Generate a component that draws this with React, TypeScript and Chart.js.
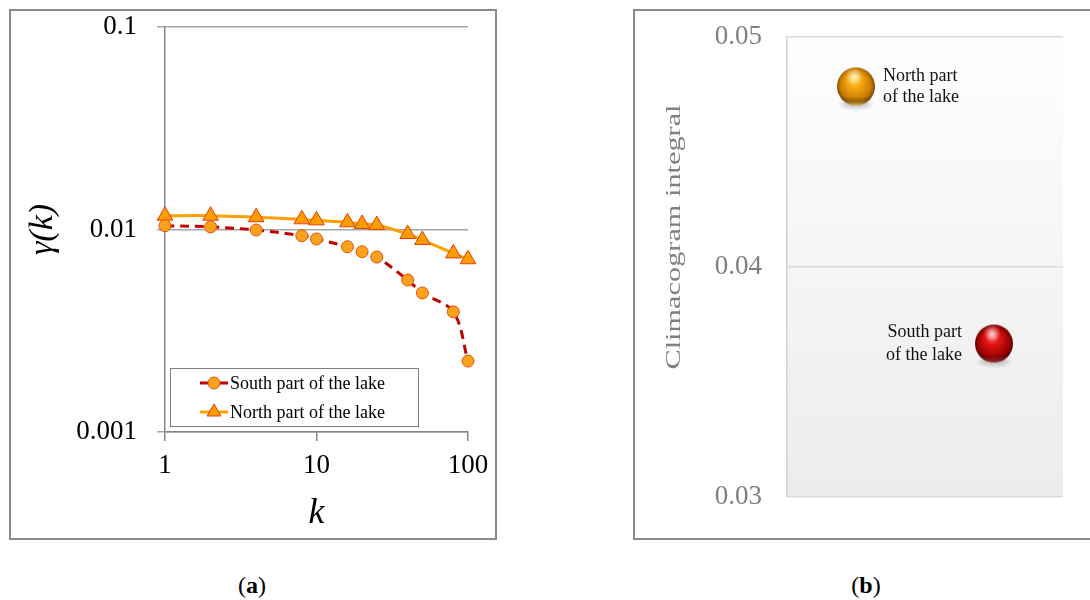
import React, { useEffect, useRef } from "react";
import { Chart, registerables } from "chart.js";

Chart.register(...registerables);

// ---------- Panel (a) data ----------
const K = [1, 2, 4, 8, 10, 16, 20, 25, 40, 50, 80, 100];
const SOUTH = [0.01044, 0.0103, 0.00994, 0.00932, 0.00898, 0.00822, 0.00777, 0.00731, 0.00563, 0.00486, 0.00392, 0.00224];
const NORTH = [0.0117, 0.0117, 0.0115, 0.01123, 0.0111, 0.01085, 0.01065, 0.01052, 0.0095, 0.00887, 0.00762, 0.00713];
const SERIES_LABELS = ["South part of the lake", "North part of the lake"];
const X_TICKS = [1, 10, 100];
const X_TICK_LABELS = ["1", "10", "100"];
const Y_TICKS = [0.001, 0.01, 0.1];
const Y_TICK_LABELS = ["0.001", "0.01", "0.1"];
const X_TITLE = "k";
const Y_TITLE = "γ(k)";

// ---------- Panel (b) data ----------
const PARTS = ["North part of the lake", "South part of the lake"];
const CLIMACOGRAM_INTEGRAL = [0.04785, 0.03667];
const PART_LABEL_LINES = [
  ["North part", "of the lake"],
  ["South part", "of the lake"],
];
const B_Y_TICKS = [0.03, 0.04, 0.05];
const B_Y_TICK_LABELS = ["0.03", "0.04", "0.05"];
const B_Y_TITLE = "Climacogram integral";

const SERIF = "'Liberation Serif', 'Times New Roman', serif";

function makeSphere(c: { light: string; mid: string; dark: string; deep: string; rim: string }) {
  const cv = document.createElement("canvas");
  cv.width = 48;
  cv.height = 52;
  const g = cv.getContext("2d")!;
  const cx = 24, cy = 26, r = 19;
  // shadow
  g.save();
  g.filter = "blur(2px)";
  g.fillStyle = "rgba(0,0,0,0.22)";
  g.beginPath();
  g.ellipse(cx, cy + r - 1, r * 0.8, 3.5, 0, 0, Math.PI * 2);
  g.fill();
  g.restore();
  // body
  const body = g.createRadialGradient(cx - r * 0.12, cy - r * 0.45, 0, cx, cy, r * 1.05);
  body.addColorStop(0, c.light);
  body.addColorStop(0.35, c.mid);
  body.addColorStop(0.78, c.dark);
  body.addColorStop(1, c.deep);
  g.fillStyle = body;
  g.beginPath();
  g.arc(cx, cy, r, 0, Math.PI * 2);
  g.fill();
  // bottom rim reflection
  g.save();
  g.beginPath();
  g.arc(cx, cy, r, 0, Math.PI * 2);
  g.clip();
  const rim = g.createLinearGradient(0, cy + r * 0.55, 0, cy + r);
  rim.addColorStop(0, "rgba(0,0,0,0)");
  rim.addColorStop(1, c.rim);
  g.fillStyle = rim;
  g.fillRect(cx - r, cy + r * 0.55, 2 * r, r * 0.45);
  g.restore();
  // specular highlight
  const sp = g.createRadialGradient(cx - r * 0.1, cy - r * 0.55, 0, cx - r * 0.1, cy - r * 0.55, r * 0.45);
  sp.addColorStop(0, "rgba(255,255,255,0.7)");
  sp.addColorStop(1, "rgba(255,255,255,0)");
  g.fillStyle = sp;
  g.beginPath();
  g.arc(cx, cy, r, 0, Math.PI * 2);
  g.fill();
  return cv;
}

const boxLegendPlugin = {
  id: "boxLegend",
  afterDraw(chart: any, _args: any, opts: any) {
    const { ctx, chartArea } = chart;
    const left = chartArea.left + opts.offsetX;
    const top = chartArea.bottom - opts.offsetY - opts.height;
    ctx.save();
    ctx.fillStyle = "#ffffff";
    ctx.fillRect(left, top, opts.width, opts.height);
    ctx.strokeStyle = "#7f7f7f";
    ctx.lineWidth = 1;
    ctx.strokeRect(left + 0.5, top + 0.5, opts.width, opts.height);
    chart.data.datasets.forEach((ds: any, i: number) => {
      const y = top + opts.firstRow + i * opts.rowGap;
      const x0 = left + opts.lineStart;
      const x1 = x0 + opts.lineLen;
      ctx.strokeStyle = ds.borderColor;
      ctx.lineWidth = 3;
      ctx.setLineDash([]);
      ctx.beginPath();
      ctx.moveTo(x0, y);
      ctx.lineTo(x1, y);
      ctx.stroke();
      const mx = (x0 + x1) / 2;
      ctx.fillStyle = ds.pointBackgroundColor;
      ctx.strokeStyle = ds.pointBorderColor;
      ctx.lineWidth = 1;
      ctx.beginPath();
      if (ds.pointStyle === "triangle") {
        const rr = 8;
        ctx.moveTo(mx, y - rr);
        ctx.lineTo(mx + rr * 0.866, y + rr * 0.5);
        ctx.lineTo(mx - rr * 0.866, y + rr * 0.5);
        ctx.closePath();
      } else {
        ctx.arc(mx, y, 6, 0, Math.PI * 2);
      }
      ctx.fill();
      ctx.stroke();
      ctx.fillStyle = "#000";
      ctx.font = `18px ${SERIF}`;
      ctx.textAlign = "left";
      ctx.textBaseline = "middle";
      ctx.fillText(ds.label, x1 + 2, y + 1);
    });
    ctx.restore();
  },
};

const plotBgPlugin = {
  id: "plotBg",
  beforeDraw(chart: any, _args: any, opts: any) {
    const { ctx, chartArea } = chart;
    if (!chartArea) return;
    const g = ctx.createLinearGradient(0, chartArea.top, 0, chartArea.bottom);
    g.addColorStop(0, opts.top);
    g.addColorStop(1, opts.bottom);
    ctx.save();
    ctx.fillStyle = g;
    ctx.fillRect(chartArea.left, chartArea.top, chartArea.right - chartArea.left, chartArea.bottom - chartArea.top);
    ctx.restore();
  },
};

const rotTitlePlugin = {
  id: "rotTitle",
  afterDraw(chart: any, _args: any, opts: any) {
    const { ctx } = chart;
    ctx.save();
    ctx.font = `${opts.size}px ${SERIF}`;
    ctx.fillStyle = opts.color;
    ctx.textAlign = "center";
    ctx.textBaseline = "middle";
    const w = ctx.measureText(opts.text).width;
    ctx.translate(opts.x, opts.y);
    ctx.rotate(-Math.PI / 2);
    ctx.scale(opts.length / w, 1);
    ctx.fillText(opts.text, 0, 0);
    ctx.restore();
  },
};

const pointLabelPlugin = {
  id: "pointLabels",
  afterDatasetsDraw(chart: any, _args: any, opts: any) {
    const { ctx } = chart;
    ctx.save();
    ctx.font = `${opts.size}px ${SERIF}`;
    ctx.fillStyle = "#111";
    ctx.textBaseline = "middle";
    chart.data.datasets.forEach((_ds: any, i: number) => {
      const meta = chart.getDatasetMeta(i);
      const el = meta.data[i];
      if (!el) return;
      const lines = PART_LABEL_LINES[i];
      const side = opts.sides[i];
      ctx.textAlign = side === "right" ? "left" : "right";
      const x = side === "right" ? el.x + opts.gap[i] : el.x - opts.gap[i];
      lines.forEach((t: string, j: number) => {
        ctx.fillText(t, x, el.y + opts.lineOffsets[i][j]);
      });
    });
    ctx.restore();
  },
};

const zeroPad = (s: any) => {
  s.paddingTop = 0;
  s.paddingBottom = 0;
  s.paddingLeft = 0;
  s.paddingRight = 0;
};

export default function App() {
  const refA = useRef<HTMLCanvasElement | null>(null);
  const refB = useRef<HTMLCanvasElement | null>(null);

  useEffect(() => {
    const chartA = new Chart(refA.current!, {
      type: "line",
      data: {
        datasets: [
          {
            label: SERIES_LABELS[0],
            data: K.map((k, i) => ({ x: k, y: SOUTH[i] })),
            borderColor: "#c00000",
            borderWidth: 3,
            borderDash: [9, 6],
            tension: 0.35,
            pointStyle: "circle",
            pointRadius: 6,
            pointBackgroundColor: "#fba21c",
            pointBorderColor: "#e8510c",
            pointBorderWidth: 1,
            fill: false,
            clip: false,
          },
          {
            label: SERIES_LABELS[1],
            data: K.map((k, i) => ({ x: k, y: NORTH[i] })),
            borderColor: "#ffa000",
            borderWidth: 3,
            tension: 0.3,
            pointStyle: "triangle",
            pointRadius: 9,
            pointBackgroundColor: "#ff9c00",
            pointBorderColor: "#e0400a",
            pointBorderWidth: 1,
            fill: false,
            clip: false,
          },
        ],
      },
      options: {
        animation: false,
        responsive: false,
        layout: { padding: { left: 0, top: 17, right: 28, bottom: 0 } },
        plugins: {
          legend: { display: false },
          tooltip: { enabled: false },
          boxLegend: {
            offsetX: 5,
            offsetY: 6,
            width: 248,
            height: 58,
            firstRow: 15,
            rowGap: 29,
            lineStart: 30,
            lineLen: 28,
          },
        } as any,
        scales: {
          x: {
            type: "logarithmic",
            min: 1,
            max: 100,
            afterBuildTicks: (s: any) => {
              s.ticks = X_TICKS.map((v) => ({ value: v }));
            },
            afterFit: (s: any) => {
              s.height = 106;
              zeroPad(s);
            },
            ticks: {
              callback: (_v: any, i: number) => X_TICK_LABELS[i],
              font: { family: SERIF, size: 27 },
              color: "#000",
              padding: 9,
              maxRotation: 0,
              autoSkip: false,
            },
            grid: { drawOnChartArea: false, tickLength: 9, color: "#868686", lineWidth: 1.5 },
            border: { color: "#868686", width: 1.5 },
            title: {
              display: true,
              text: X_TITLE,
              font: { family: SERIF, size: 36, style: "italic" },
              color: "#000",
              padding: { top: 0, bottom: 3 },
            },
          },
          y: {
            type: "logarithmic",
            min: 0.001,
            max: 0.1,
            afterBuildTicks: (s: any) => {
              s.ticks = Y_TICKS.map((v) => ({ value: v }));
            },
            afterFit: (s: any) => {
              s.width = 155;
              zeroPad(s);
            },
            ticks: {
              callback: (_v: any, i: number) => Y_TICK_LABELS[i],
              font: { family: SERIF, size: 27 },
              color: "#000",
              padding: 20,
              autoSkip: false,
            },
            grid: { color: "#a6a6a6", lineWidth: 1.5, tickLength: 8 },
            border: { color: "#868686", width: 1.5 },
            title: {
              display: true,
              text: Y_TITLE,
              font: { family: SERIF, size: 34, style: "italic" },
              color: "#000",
              padding: { top: 13, bottom: 0 },
            },
          },
        },
      } as any,
      plugins: [boxLegendPlugin],
    });

    const orange = makeSphere({
      light: "#ffe066",
      mid: "#f7a912",
      dark: "#c97a00",
      deep: "#6b4000",
      rim: "rgba(255,205,100,0.85)",
    });
    const red = makeSphere({
      light: "#ff7a7a",
      mid: "#e01515",
      dark: "#a00000",
      deep: "#480000",
      rim: "rgba(220,110,90,0.6)",
    });
    const spheres = [orange, red];

    const chartB = new Chart(refB.current!, {
      type: "line",
      data: {
        labels: PARTS,
        datasets: PARTS.map((p, i) => ({
          label: p,
          data: PARTS.map((_q, j) => (j === i ? CLIMACOGRAM_INTEGRAL[i] : null)),
          showLine: false,
          pointStyle: spheres[i],
          pointRadius: 19,
          clip: false,
        })),
      },
      options: {
        animation: false,
        responsive: false,
        layout: { padding: { left: 0, top: 27, right: 27, bottom: 41 } },
        plugins: {
          legend: { display: false },
          tooltip: { enabled: false },
          plotBg: { top: "#fefefe", bottom: "#ececec" },
          rotTitle: { text: B_Y_TITLE, x: 39, y: 227, size: 21, length: 265, color: "#808080" },
          pointLabels: {
            size: 18,
            sides: ["right", "left"],
            gap: [27, 32],
            lineOffsets: [
              [-10, 11],
              [-11, 12],
            ],
          },
        } as any,
        scales: {
          x: { type: "category", offset: true, display: false },
          y: {
            min: 0.03,
            max: 0.05,
            afterBuildTicks: (s: any) => {
              s.ticks = B_Y_TICKS.map((v) => ({ value: v }));
            },
            afterFit: (s: any) => {
              s.width = 152;
              zeroPad(s);
            },
            ticks: {
              callback: (_v: any, i: number) => B_Y_TICK_LABELS[i],
              font: { family: SERIF, size: 27 },
              color: "#808080",
              padding: 25,
              autoSkip: false,
            },
            grid: { color: "#dcdcdc", lineWidth: 1.5, drawTicks: false },
            border: { color: "#d2d2d2", width: 1.5 },
          },
        },
      } as any,
      plugins: [plotBgPlugin, rotTitlePlugin, pointLabelPlugin],
    });

    return () => {
      chartA.destroy();
      chartB.destroy();
    };
  }, []);

  const captionStyle: React.CSSProperties = {
    position: "absolute",
    top: 571,
    width: 80,
    marginLeft: -40,
    textAlign: "center",
    fontFamily: SERIF,
    fontSize: 24,
    lineHeight: "28px",
    color: "#000",
  };

  return (
    <div
      style={{
        position: "absolute",
        left: 0,
        top: 0,
        width: 1090,
        height: 600,
        overflow: "hidden",
        background: "#fff",
      }}
    >
      <div
        style={{
          position: "absolute",
          left: 9,
          top: 9,
          width: 488,
          height: 531,
          border: "2px solid #8a8a8a",
          boxSizing: "border-box",
        }}
      />
      <div
        style={{
          position: "absolute",
          left: 633,
          top: 9,
          width: 500,
          height: 531,
          border: "2px solid #8a8a8a",
          boxSizing: "border-box",
        }}
      />
      <canvas
        ref={refA}
        width={486}
        height={528}
        style={{ position: "absolute", left: 10, top: 10, width: 486, height: 528 }}
      />
      <canvas
        ref={refB}
        width={455}
        height={528}
        style={{ position: "absolute", left: 635, top: 10, width: 455, height: 528 }}
      />
      <div style={{ ...captionStyle, left: 252 }}>
        (<b>a</b>)
      </div>
      <div style={{ ...captionStyle, left: 866 }}>
        (<b>b</b>)
      </div>
    </div>
  );
}
